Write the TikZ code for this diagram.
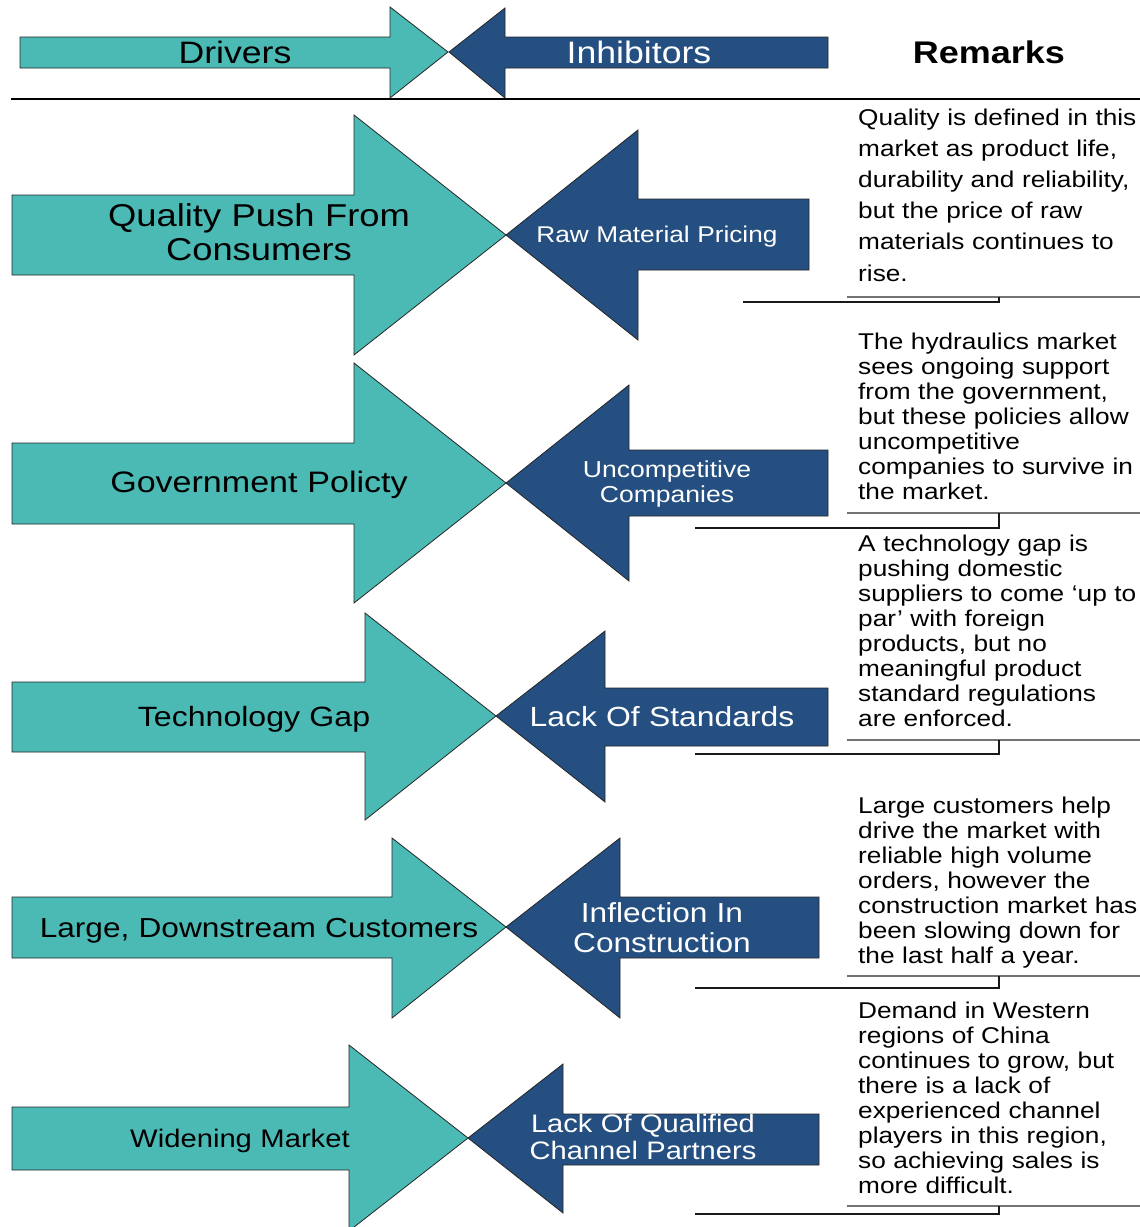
\documentclass[tikz,border=0pt]{standalone}
\usepackage{fontspec}
\setmainfont[FakeStretch=1.15]{Liberation Sans}
\definecolor{tealA}{HTML}{4BBAB5}
\definecolor{navyA}{HTML}{244F80}
\begin{document}
\begin{tikzpicture}[x=1pt,y=-1pt,
  drv/.style={fill=tealA,draw=black!85,line width=0.8pt,line join=miter},
  inh/.style={fill=navyA,draw=black!85,line width=0.8pt,line join=miter},
  dlab/.style={anchor=base,inner sep=0,text width=470pt,align=center,text=black},
  ilab/.style={anchor=base,inner sep=0,text width=330pt,align=center,text=white},
  rem/.style={anchor=base west,inner sep=0,text width=330pt,align=left,text=black},
  upl/.style={draw=black!55,line width=1.2pt},
  lowl/.style={draw=black!90,line width=1.2pt}]
\useasboundingbox (0,0) rectangle (1140,1227);
\fill[white] (0,0) rectangle (1140,1227);

% ---------- header ----------
\draw[drv] (20,37) -- (390,37) -- (390,7) -- (448,52) -- (390,98) -- (390,68) -- (20,68) -- cycle;
\draw[inh] (449,52) -- (505,8) -- (505,37) -- (828,37) -- (828,68) -- (505,68) -- (505,98) -- cycle;
\draw[line width=1.6pt] (11,99) -- (1140,99);
\node[dlab,font=\fontsize{31}{34}\selectfont] (hdrv) at (235,63) {Drivers};
\node[ilab,font=\fontsize{31}{34}\selectfont] (hinh) at (639,63) {Inhibitors};
\node[anchor=base,inner sep=0,font=\fontsize{31.3}{34}\selectfont\bfseries] (hrem) at (989,63) {Remarks};

% ---------- row 1 ----------
\draw[drv] (12,195) -- (354,195) -- (354,115) -- (506,235) -- (354,355) -- (354,275) -- (12,275) -- cycle;
\draw[inh] (506,235) -- (638,130) -- (638,199) -- (809,199) -- (809,270) -- (638,270) -- (638,340) -- cycle;
\node[dlab,font=\fontsize{31.6}{34}\selectfont] (d1) at (259,226) {Quality Push From\\Consumers};
\node[ilab,font=\fontsize{22.8}{25}\selectfont] (i1) at (657,242) {Raw Material Pricing};
\node[rem,font=\fontsize{22.8}{31.2}\selectfont] (r1) at (858,125) {Quality is defined in this\\market as product life,\\durability and reliability,\\but the price of raw\\materials continues to\\rise.};
\draw[upl] (847,297) -- (1140,297);
\draw[lowl] (743,302) -- (999,302) -- (999,297);

% ---------- row 2 ----------
\draw[drv] (12,443) -- (354,443) -- (354,363) -- (506,483) -- (354,603) -- (354,524) -- (12,524) -- cycle;
\draw[inh] (506,483) -- (629,385) -- (629,450) -- (828,450) -- (828,516) -- (629,516) -- (629,581) -- cycle;
\node[dlab,font=\fontsize{29.6}{32}\selectfont] (d2) at (259,492) {Government Policty};
\node[ilab,font=\fontsize{23.1}{25}\selectfont] (i2) at (667,477) {Uncompetitive\\Companies};
\node[rem,font=\fontsize{22.8}{25}\selectfont] (r2) at (858,349) {The hydraulics market\\sees ongoing support\\from the government,\\but these policies allow\\uncompetitive\\companies to survive in\\the market.};
\draw[upl] (847,513) -- (1140,513);
\draw[lowl] (695,528) -- (999,528) -- (999,513);

% ---------- row 3 ----------
\draw[drv] (12,682) -- (365,682) -- (365,613) -- (496,716) -- (365,820) -- (365,752) -- (12,752) -- cycle;
\draw[inh] (496,716) -- (605,631) -- (605,688) -- (828,688) -- (828,746) -- (605,746) -- (605,802) -- cycle;
\node[dlab,font=\fontsize{27.9}{31}\selectfont] (d3) at (254,726) {Technology Gap};
\node[ilab,font=\fontsize{27.7}{31}\selectfont] (i3) at (662,726) {Lack Of Standards};
\node[rem,font=\fontsize{22.8}{25}\selectfont] (r3) at (858,551) {A technology gap is\\pushing domestic\\suppliers to come ‘up to\\par’ with foreign\\products, but no\\meaningful product\\standard regulations\\are enforced.};
\draw[upl] (847,740) -- (1140,740);
\draw[lowl] (695,754) -- (999,754) -- (999,740);

% ---------- row 4 ----------
\draw[drv] (12,897) -- (392,897) -- (392,838) -- (506,927) -- (392,1018) -- (392,958) -- (12,958) -- cycle;
\draw[inh] (506,927) -- (620,838) -- (620,897) -- (819,897) -- (819,958) -- (620,958) -- (620,1018) -- cycle;
\node[dlab,font=\fontsize{27.5}{31}\selectfont] (d4) at (259,937) {Large, Downstream Customers};
\node[ilab,font=\fontsize{27.5}{30}\selectfont] (i4) at (662,922) {Inflection In\\Construction};
\node[rem,font=\fontsize{22.8}{25}\selectfont] (r4) at (858,813) {Large customers help\\drive the market with\\reliable high volume\\orders, however the\\construction market has\\been slowing down for\\the last half a year.};
\draw[upl] (847,976) -- (1140,976);
\draw[lowl] (695,988) -- (999,988) -- (999,976);

% ---------- row 5 ----------
\draw[drv] (12,1107) -- (349,1107) -- (349,1045) -- (468,1138) -- (349,1231) -- (349,1170) -- (12,1170) -- cycle;
\draw[inh] (468,1138) -- (563,1064) -- (563,1114) -- (819,1114) -- (819,1165) -- (563,1165) -- (563,1213) -- cycle;
\node[dlab,font=\fontsize{25.4}{29}\selectfont] (d5) at (240,1147) {Widening Market};
\node[ilab,font=\fontsize{25.3}{27}\selectfont] (i5) at (643,1132) {Lack Of Qualified\\Channel Partners};
\node[rem,font=\fontsize{22.8}{25}\selectfont] (r5) at (858,1018) {Demand in Western\\regions of China\\continues to grow, but\\there is a lack of\\experienced channel\\players in this region,\\so achieving sales is\\more difficult.};
\draw[upl] (847,1206) -- (1140,1206);
\draw[lowl] (695,1214) -- (999,1214) -- (999,1206);
\end{tikzpicture}
\end{document}
